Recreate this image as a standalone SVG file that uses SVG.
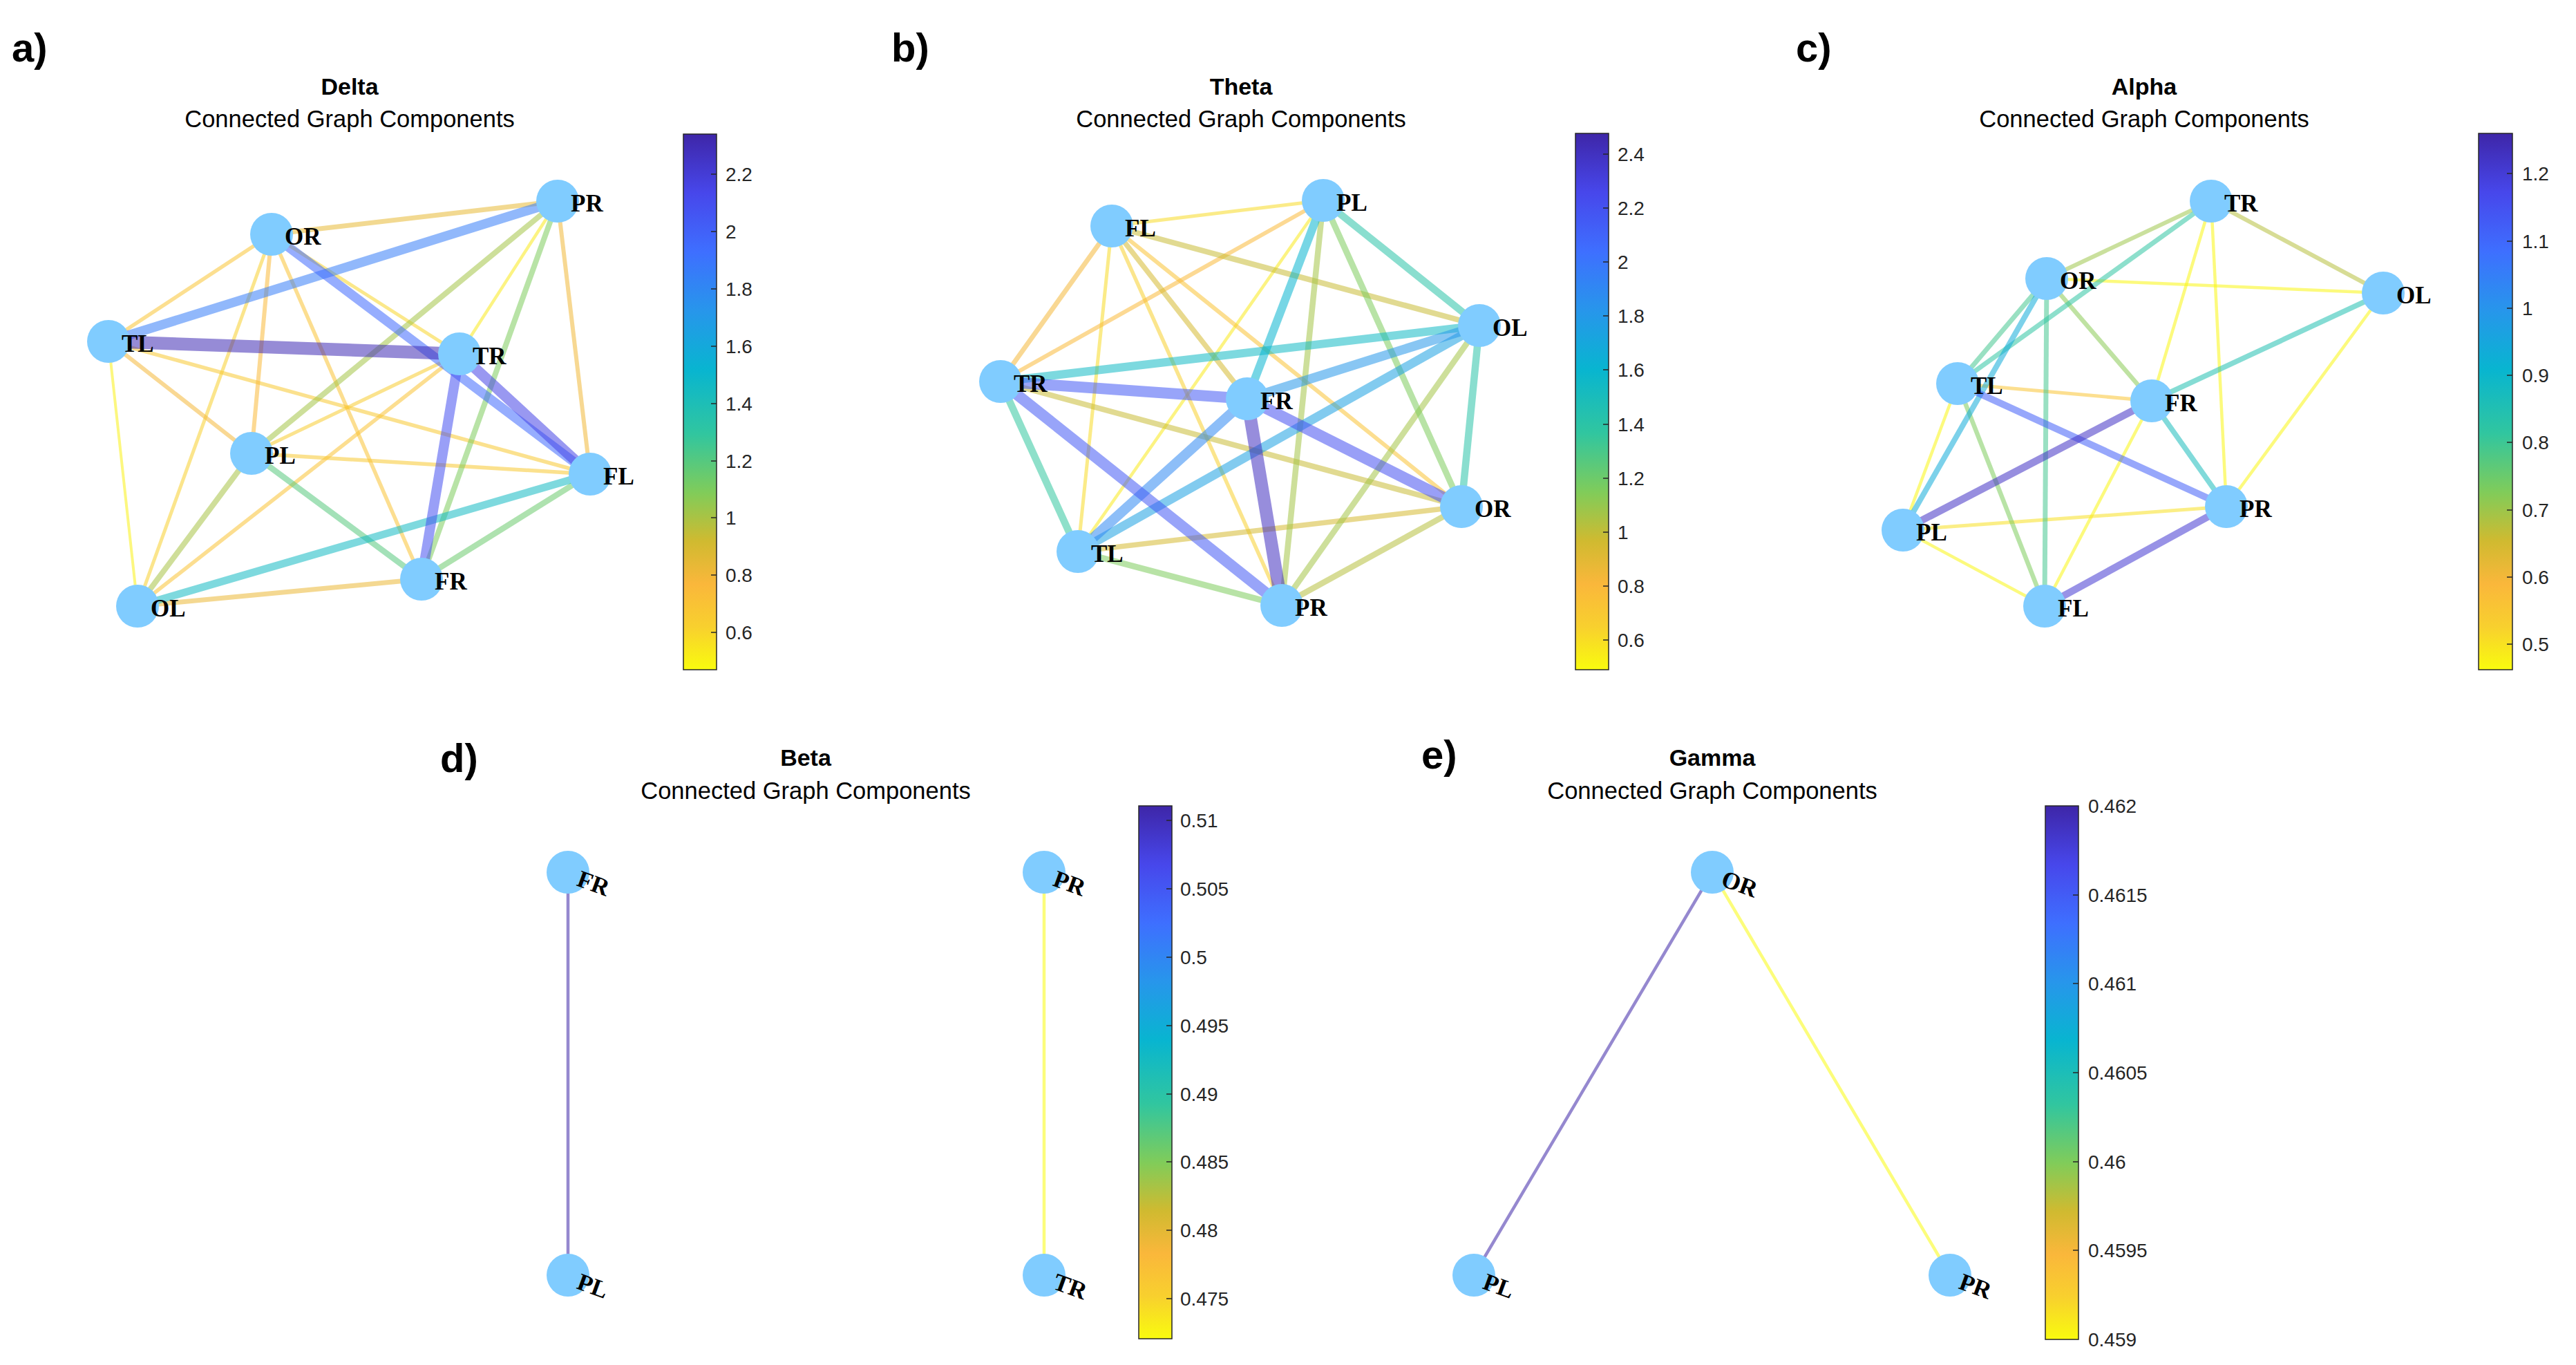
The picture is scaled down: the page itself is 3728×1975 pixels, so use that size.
<svg xmlns="http://www.w3.org/2000/svg" width="3728" height="1975" viewBox="0 0 3728 1975">
<defs>
<linearGradient id="parula" x1="0" y1="1" x2="0" y2="0">
<stop offset="0" stop-color="#F9FB0E"/>
<stop offset="0.08" stop-color="#F8D02E"/>
<stop offset="0.16" stop-color="#FAB73B"/>
<stop offset="0.24" stop-color="#D0BA30"/>
<stop offset="0.33" stop-color="#81CC59"/>
<stop offset="0.44" stop-color="#31C69F"/>
<stop offset="0.56" stop-color="#08B5D0"/>
<stop offset="0.67" stop-color="#2796EB"/>
<stop offset="0.78" stop-color="#3E6FFF"/>
<stop offset="0.89" stop-color="#4747EB"/>
<stop offset="1" stop-color="#3E26A8"/>
</linearGradient>
<style>
.e{fill:none;stroke-opacity:0.55;stroke-linecap:butt}
.n{fill:#80CCFF}
.lbl{font-family:"Liberation Serif","Times New Roman",serif;font-weight:bold;font-size:35px;fill:#000}
.lblr{font-family:"Liberation Serif","Times New Roman",serif;font-weight:bold;font-size:35px;fill:#000}
.pl{font-family:"Liberation Sans",Arial,sans-serif;font-weight:bold;font-size:58px;fill:#000}
.ti{font-family:"Liberation Sans",Arial,sans-serif;font-weight:bold;font-size:34px;fill:#000;text-anchor:middle}
.su{font-family:"Liberation Sans",Arial,sans-serif;font-size:34.5px;fill:#000;text-anchor:middle}
.cb{fill:url(#parula);stroke:#262626;stroke-width:1.5}
.tk{stroke:#262626;stroke-width:1.5}
.tl{font-family:"Liberation Sans",Arial,sans-serif;font-size:28px;fill:#262626}
</style>
</defs>
<rect x="0" y="0" width="3728" height="1975" fill="#FFFFFF"/>

<!-- Panel labels and titles -->
<text class="pl" x="17" y="89">a)</text>
<text class="pl" x="1290" y="89">b)</text>
<text class="pl" x="2599" y="89">c)</text>
<text class="pl" x="637" y="1117">d)</text>
<text class="pl" x="2057" y="1112">e)</text>

<text class="ti" x="506" y="137">Delta</text>
<text class="su" x="506" y="184">Connected Graph Components</text>
<text class="ti" x="1796" y="137">Theta</text>
<text class="su" x="1796" y="184">Connected Graph Components</text>
<text class="ti" x="3103" y="137">Alpha</text>
<text class="su" x="3103" y="184">Connected Graph Components</text>
<text class="ti" x="1166" y="1108">Beta</text>
<text class="su" x="1166" y="1156">Connected Graph Components</text>
<text class="ti" x="2478" y="1108">Gamma</text>
<text class="su" x="2478" y="1156">Connected Graph Components</text>

<!-- ===== Panel a ===== -->
<g id="a-connectors">
<line class="e" x1="157" y1="494" x2="199" y2="877" stroke="#F9F016" stroke-width="4"/>
<line class="e" x1="807" y1="291" x2="665" y2="512" stroke="#F9EA1C" stroke-width="4.5"/>
<line class="e" x1="393" y1="339" x2="665" y2="512" stroke="#F8D52A" stroke-width="5"/>
<line class="e" x1="393" y1="339" x2="199" y2="877" stroke="#F8D02E" stroke-width="5"/>
<line class="e" x1="364" y1="656" x2="665" y2="512" stroke="#F8CC30" stroke-width="5"/>
<line class="e" x1="364" y1="656" x2="854" y2="686" stroke="#F8C932" stroke-width="5.5"/>
<line class="e" x1="157" y1="494" x2="854" y2="686" stroke="#F8C932" stroke-width="5.5"/>
<line class="e" x1="393" y1="339" x2="157" y2="494" stroke="#F9C534" stroke-width="5.5"/>
<line class="e" x1="393" y1="339" x2="610" y2="838" stroke="#F9C235" stroke-width="5.5"/>
<line class="e" x1="665" y1="512" x2="199" y2="877" stroke="#F9C235" stroke-width="5.5"/>
<line class="e" x1="393" y1="339" x2="364" y2="656" stroke="#FABA3A" stroke-width="6"/>
<line class="e" x1="157" y1="494" x2="364" y2="656" stroke="#F4B83A" stroke-width="6"/>
<line class="e" x1="807" y1="291" x2="854" y2="686" stroke="#F0B838" stroke-width="6"/>
<line class="e" x1="610" y1="838" x2="199" y2="877" stroke="#EBB837" stroke-width="7"/>
<line class="e" x1="393" y1="339" x2="807" y2="291" stroke="#E8B937" stroke-width="7"/>
<line class="e" x1="364" y1="656" x2="199" y2="877" stroke="#A8C345" stroke-width="8"/>
<line class="e" x1="807" y1="291" x2="364" y2="656" stroke="#A4C447" stroke-width="8"/>
<line class="e" x1="807" y1="291" x2="610" y2="838" stroke="#7ECC5C" stroke-width="8"/>
<line class="e" x1="854" y1="686" x2="610" y2="838" stroke="#6BCA6D" stroke-width="8.5"/>
<line class="e" x1="364" y1="656" x2="610" y2="838" stroke="#58C97D" stroke-width="8.5"/>
<line class="e" x1="854" y1="686" x2="199" y2="877" stroke="#14BAC2" stroke-width="11"/>
<line class="e" x1="157" y1="494" x2="807" y2="291" stroke="#367DF8" stroke-width="13.5"/>
<line class="e" x1="393" y1="339" x2="854" y2="686" stroke="#3F6AFD" stroke-width="13.5"/>
<line class="e" x1="665" y1="512" x2="610" y2="838" stroke="#4551F0" stroke-width="14.5"/>
<line class="e" x1="665" y1="512" x2="854" y2="686" stroke="#4644E6" stroke-width="15.5"/>
<line class="e" x1="157" y1="494" x2="665" y2="512" stroke="#402CB5" stroke-width="18.5"/>
</g>
<g id="a-PR"><circle class="n" cx="807" cy="291" r="31"/><text class="lbl" x="826" y="306">PR</text></g>
<g id="a-OR"><circle class="n" cx="393" cy="339" r="31"/><text class="lbl" x="412" y="354">OR</text></g>
<g id="a-TL"><circle class="n" cx="157" cy="494" r="31"/><text class="lbl" x="176" y="509">TL</text></g>
<g id="a-TR"><circle class="n" cx="665" cy="512" r="31"/><text class="lbl" x="684" y="527">TR</text></g>
<g id="a-PL"><circle class="n" cx="364" cy="656" r="31"/><text class="lbl" x="383" y="671">PL</text></g>
<g id="a-FL"><circle class="n" cx="854" cy="686" r="31"/><text class="lbl" x="873" y="701">FL</text></g>
<g id="a-FR"><circle class="n" cx="610" cy="838" r="31"/><text class="lbl" x="629" y="853">FR</text></g>
<g id="a-OL"><circle class="n" cx="199" cy="877" r="31"/><text class="lbl" x="218" y="892">OL</text></g>
<g id="a-colorbar">
<rect class="cb" x="989" y="194" width="48" height="775"/>
<g class="tk">
<line x1="1029" y1="915" x2="1037" y2="915"/><line x1="1029" y1="832" x2="1037" y2="832"/>
<line x1="1029" y1="749" x2="1037" y2="749"/><line x1="1029" y1="667" x2="1037" y2="667"/>
<line x1="1029" y1="584" x2="1037" y2="584"/><line x1="1029" y1="501" x2="1037" y2="501"/>
<line x1="1029" y1="418" x2="1037" y2="418"/><line x1="1029" y1="335" x2="1037" y2="335"/>
<line x1="1029" y1="252" x2="1037" y2="252"/>
</g>
<text class="tl" x="1050" y="925">0.6</text><text class="tl" x="1050" y="842">0.8</text>
<text class="tl" x="1050" y="759">1</text><text class="tl" x="1050" y="677">1.2</text>
<text class="tl" x="1050" y="594">1.4</text><text class="tl" x="1050" y="511">1.6</text>
<text class="tl" x="1050" y="428">1.8</text><text class="tl" x="1050" y="345">2</text>
<text class="tl" x="1050" y="262">2.2</text>
</g>

<!-- ===== Panel b ===== -->
<g id="b-connectors">
<line class="e" x1="1915" y1="290" x2="1560" y2="798" stroke="#F9EA1C" stroke-width="4.5"/>
<line class="e" x1="1609" y1="327" x2="1915" y2="290" stroke="#F8DB26" stroke-width="5"/>
<line class="e" x1="1609" y1="327" x2="1560" y2="798" stroke="#F8DB26" stroke-width="5"/>
<line class="e" x1="1609" y1="327" x2="1855" y2="876" stroke="#F8D02E" stroke-width="5.5"/>
<line class="e" x1="1609" y1="327" x2="2115" y2="733" stroke="#F9C235" stroke-width="6"/>
<line class="e" x1="1915" y1="290" x2="1448" y2="552" stroke="#FABA3A" stroke-width="6"/>
<line class="e" x1="1609" y1="327" x2="1448" y2="552" stroke="#F4B83A" stroke-width="7"/>
<line class="e" x1="1609" y1="327" x2="1805" y2="577" stroke="#D6BA32" stroke-width="7.5"/>
<line class="e" x1="1560" y1="798" x2="2115" y2="733" stroke="#D6BA32" stroke-width="7.5"/>
<line class="e" x1="1448" y1="552" x2="2115" y2="733" stroke="#C8BC36" stroke-width="8"/>
<line class="e" x1="1609" y1="327" x2="2141" y2="471" stroke="#C8BC36" stroke-width="8"/>
<line class="e" x1="2115" y1="733" x2="1855" y2="876" stroke="#B6C03E" stroke-width="8.5"/>
<line class="e" x1="1915" y1="290" x2="1855" y2="876" stroke="#A4C447" stroke-width="8.5"/>
<line class="e" x1="2141" y1="471" x2="1855" y2="876" stroke="#A4C447" stroke-width="8.5"/>
<line class="e" x1="1915" y1="290" x2="2115" y2="733" stroke="#7ECC5C" stroke-width="9"/>
<line class="e" x1="1560" y1="798" x2="1855" y2="876" stroke="#7ECC5C" stroke-width="9"/>
<line class="e" x1="1448" y1="552" x2="1560" y2="798" stroke="#31C69F" stroke-width="10.5"/>
<line class="e" x1="2141" y1="471" x2="2115" y2="733" stroke="#2AC3A8" stroke-width="10.5"/>
<line class="e" x1="1915" y1="290" x2="2141" y2="471" stroke="#2AC3A8" stroke-width="10.5"/>
<line class="e" x1="2141" y1="471" x2="1448" y2="552" stroke="#12B9C4" stroke-width="12"/>
<line class="e" x1="1915" y1="290" x2="1805" y2="577" stroke="#08B5D0" stroke-width="12"/>
<line class="e" x1="2141" y1="471" x2="1560" y2="798" stroke="#1CA1E1" stroke-width="13"/>
<line class="e" x1="2141" y1="471" x2="1805" y2="577" stroke="#2698EA" stroke-width="13.5"/>
<line class="e" x1="1805" y1="577" x2="1560" y2="798" stroke="#2F88F2" stroke-width="14.5"/>
<line class="e" x1="1448" y1="552" x2="1855" y2="876" stroke="#4459F4" stroke-width="16"/>
<line class="e" x1="1448" y1="552" x2="1805" y2="577" stroke="#4459F4" stroke-width="16"/>
<line class="e" x1="1805" y1="577" x2="2115" y2="733" stroke="#4551F0" stroke-width="16.5"/>
<line class="e" x1="1805" y1="577" x2="1855" y2="876" stroke="#4130C0" stroke-width="18.5"/>
</g>
<g id="b-FL"><circle class="n" cx="1609" cy="327" r="31"/><text class="lbl" x="1628" y="342">FL</text></g>
<g id="b-PL"><circle class="n" cx="1915" cy="290" r="31"/><text class="lbl" x="1934" y="305">PL</text></g>
<g id="b-OL"><circle class="n" cx="2141" cy="471" r="31"/><text class="lbl" x="2160" y="486">OL</text></g>
<g id="b-TR"><circle class="n" cx="1448" cy="552" r="31"/><text class="lbl" x="1467" y="567">TR</text></g>
<g id="b-FR"><circle class="n" cx="1805" cy="577" r="31"/><text class="lbl" x="1824" y="592">FR</text></g>
<g id="b-OR"><circle class="n" cx="2115" cy="733" r="31"/><text class="lbl" x="2134" y="748">OR</text></g>
<g id="b-TL"><circle class="n" cx="1560" cy="798" r="31"/><text class="lbl" x="1579" y="813">TL</text></g>
<g id="b-PR"><circle class="n" cx="1855" cy="876" r="31"/><text class="lbl" x="1874" y="891">PR</text></g>
<g id="b-colorbar">
<rect class="cb" x="2280" y="193" width="48" height="776"/>
<g class="tk">
<line x1="2320" y1="926" x2="2328" y2="926"/><line x1="2320" y1="848" x2="2328" y2="848"/>
<line x1="2320" y1="770" x2="2328" y2="770"/><line x1="2320" y1="692" x2="2328" y2="692"/>
<line x1="2320" y1="614" x2="2328" y2="614"/><line x1="2320" y1="535" x2="2328" y2="535"/>
<line x1="2320" y1="457" x2="2328" y2="457"/><line x1="2320" y1="379" x2="2328" y2="379"/>
<line x1="2320" y1="301" x2="2328" y2="301"/><line x1="2320" y1="223" x2="2328" y2="223"/>
</g>
<text class="tl" x="2341" y="936">0.6</text><text class="tl" x="2341" y="858">0.8</text>
<text class="tl" x="2341" y="780">1</text><text class="tl" x="2341" y="702">1.2</text>
<text class="tl" x="2341" y="624">1.4</text><text class="tl" x="2341" y="545">1.6</text>
<text class="tl" x="2341" y="467">1.8</text><text class="tl" x="2341" y="389">2</text>
<text class="tl" x="2341" y="311">2.2</text><text class="tl" x="2341" y="233">2.4</text>
</g>

<!-- ===== Panel c ===== -->
<g id="c-connectors">
<line class="e" x1="3200" y1="291" x2="3114" y2="580" stroke="#F9F512" stroke-width="4.5"/>
<line class="e" x1="3200" y1="291" x2="3222" y2="733" stroke="#F9F512" stroke-width="4.5"/>
<line class="e" x1="2962" y1="403" x2="3449" y2="424" stroke="#F9F512" stroke-width="4.5"/>
<line class="e" x1="3449" y1="424" x2="3222" y2="733" stroke="#F9F512" stroke-width="4.5"/>
<line class="e" x1="2833" y1="555" x2="2754" y2="767" stroke="#F9F512" stroke-width="4.5"/>
<line class="e" x1="3114" y1="580" x2="2959" y2="877" stroke="#F9F512" stroke-width="4.5"/>
<line class="e" x1="2754" y1="767" x2="2959" y2="877" stroke="#F9F512" stroke-width="4.5"/>
<line class="e" x1="3222" y1="733" x2="2754" y2="767" stroke="#F8E022" stroke-width="5"/>
<line class="e" x1="2833" y1="555" x2="3114" y2="580" stroke="#F9C534" stroke-width="5"/>
<line class="e" x1="3200" y1="291" x2="3449" y2="424" stroke="#B6C03E" stroke-width="6"/>
<line class="e" x1="3200" y1="291" x2="2962" y2="403" stroke="#9EC64C" stroke-width="6"/>
<line class="e" x1="2962" y1="403" x2="3114" y2="580" stroke="#8ACA56" stroke-width="6.5"/>
<line class="e" x1="2833" y1="555" x2="2959" y2="877" stroke="#7ECC5C" stroke-width="6.5"/>
<line class="e" x1="2962" y1="403" x2="2959" y2="877" stroke="#46C790" stroke-width="7"/>
<line class="e" x1="2962" y1="403" x2="2833" y2="555" stroke="#46C790" stroke-width="7"/>
<line class="e" x1="3200" y1="291" x2="2833" y2="555" stroke="#2FC5A2" stroke-width="7"/>
<line class="e" x1="3449" y1="424" x2="3114" y2="580" stroke="#21BFB0" stroke-width="7.5"/>
<line class="e" x1="3114" y1="580" x2="3222" y2="733" stroke="#19BCBB" stroke-width="7.5"/>
<line class="e" x1="2962" y1="403" x2="2754" y2="767" stroke="#10ACD8" stroke-width="8"/>
<line class="e" x1="2833" y1="555" x2="3222" y2="733" stroke="#425FF7" stroke-width="10"/>
<line class="e" x1="3222" y1="733" x2="2959" y2="877" stroke="#4438D2" stroke-width="10.5"/>
<line class="e" x1="3114" y1="580" x2="2754" y2="767" stroke="#4232C4" stroke-width="10.5"/>
</g>
<g id="c-TR"><circle class="n" cx="3200" cy="291" r="31"/><text class="lbl" x="3219" y="306">TR</text></g>
<g id="c-OR"><circle class="n" cx="2962" cy="403" r="31"/><text class="lbl" x="2981" y="418">OR</text></g>
<g id="c-OL"><circle class="n" cx="3449" cy="424" r="31"/><text class="lbl" x="3468" y="439">OL</text></g>
<g id="c-TL"><circle class="n" cx="2833" cy="555" r="31"/><text class="lbl" x="2852" y="570">TL</text></g>
<g id="c-FR"><circle class="n" cx="3114" cy="580" r="31"/><text class="lbl" x="3133" y="595">FR</text></g>
<g id="c-PR"><circle class="n" cx="3222" cy="733" r="31"/><text class="lbl" x="3241" y="748">PR</text></g>
<g id="c-PL"><circle class="n" cx="2754" cy="767" r="31"/><text class="lbl" x="2773" y="782">PL</text></g>
<g id="c-FL"><circle class="n" cx="2959" cy="877" r="31"/><text class="lbl" x="2978" y="892">FL</text></g>
<g id="c-colorbar">
<rect class="cb" x="3587" y="193" width="49" height="776"/>
<g class="tk">
<line x1="3628" y1="932" x2="3636" y2="932"/><line x1="3628" y1="835" x2="3636" y2="835"/>
<line x1="3628" y1="738" x2="3636" y2="738"/><line x1="3628" y1="640" x2="3636" y2="640"/>
<line x1="3628" y1="543" x2="3636" y2="543"/><line x1="3628" y1="446" x2="3636" y2="446"/>
<line x1="3628" y1="349" x2="3636" y2="349"/><line x1="3628" y1="251" x2="3636" y2="251"/>
</g>
<text class="tl" x="3650" y="942">0.5</text><text class="tl" x="3650" y="845">0.6</text>
<text class="tl" x="3650" y="748">0.7</text><text class="tl" x="3650" y="650">0.8</text>
<text class="tl" x="3650" y="553">0.9</text><text class="tl" x="3650" y="456">1</text>
<text class="tl" x="3650" y="359">1.1</text><text class="tl" x="3650" y="261">1.2</text>
</g>

<!-- ===== Panel d ===== -->
<g id="d-connectors">
<line class="e" x1="822" y1="1262" x2="822" y2="1845" stroke="#3E26A8" stroke-width="4.5"/>
<line class="e" x1="1511" y1="1262" x2="1511" y2="1845" stroke="#F9FB0E" stroke-width="4.5"/>
</g>
<g id="d-FR"><circle class="n" cx="822" cy="1262" r="31"/><text class="lblr" x="833" y="1281" transform="rotate(20 833 1281)">FR</text></g>
<g id="d-PL"><circle class="n" cx="822" cy="1845" r="31"/><text class="lblr" x="833" y="1864" transform="rotate(20 833 1864)">PL</text></g>
<g id="d-PR"><circle class="n" cx="1511" cy="1262" r="31"/><text class="lblr" x="1522" y="1281" transform="rotate(20 1522 1281)">PR</text></g>
<g id="d-TR"><circle class="n" cx="1511" cy="1845" r="31"/><text class="lblr" x="1522" y="1864" transform="rotate(20 1522 1864)">TR</text></g>
<g id="d-colorbar">
<rect class="cb" x="1648" y="1166" width="48" height="771"/>
<g class="tk">
<line x1="1688" y1="1879" x2="1696" y2="1879"/><line x1="1688" y1="1780" x2="1696" y2="1780"/>
<line x1="1688" y1="1681" x2="1696" y2="1681"/><line x1="1688" y1="1583" x2="1696" y2="1583"/>
<line x1="1688" y1="1484" x2="1696" y2="1484"/><line x1="1688" y1="1385" x2="1696" y2="1385"/>
<line x1="1688" y1="1286" x2="1696" y2="1286"/><line x1="1688" y1="1187" x2="1696" y2="1187"/>
</g>
<text class="tl" x="1708" y="1889">0.475</text><text class="tl" x="1708" y="1790">0.48</text>
<text class="tl" x="1708" y="1691">0.485</text><text class="tl" x="1708" y="1593">0.49</text>
<text class="tl" x="1708" y="1494">0.495</text><text class="tl" x="1708" y="1395">0.5</text>
<text class="tl" x="1708" y="1296">0.505</text><text class="tl" x="1708" y="1197">0.51</text>
</g>

<!-- ===== Panel e ===== -->
<g id="e-connectors">
<line class="e" x1="2478" y1="1262" x2="2133" y2="1845" stroke="#3E26A8" stroke-width="4.5"/>
<line class="e" x1="2478" y1="1262" x2="2822" y2="1845" stroke="#F9FB0E" stroke-width="4.5"/>
</g>
<g id="e-OR"><circle class="n" cx="2478" cy="1262" r="31"/><text class="lblr" x="2489" y="1281" transform="rotate(20 2489 1281)">OR</text></g>
<g id="e-PL"><circle class="n" cx="2133" cy="1845" r="31"/><text class="lblr" x="2144" y="1864" transform="rotate(20 2144 1864)">PL</text></g>
<g id="e-PR"><circle class="n" cx="2822" cy="1845" r="31"/><text class="lblr" x="2833" y="1864" transform="rotate(20 2833 1864)">PR</text></g>
<g id="e-colorbar">
<rect class="cb" x="2960" y="1166" width="48" height="772"/>
<g class="tk">
<line x1="3000" y1="1809" x2="3008" y2="1809"/><line x1="3000" y1="1681" x2="3008" y2="1681"/>
<line x1="3000" y1="1552" x2="3008" y2="1552"/><line x1="3000" y1="1423" x2="3008" y2="1423"/>
<line x1="3000" y1="1295" x2="3008" y2="1295"/>
</g>
<text class="tl" x="3022" y="1948">0.459</text><text class="tl" x="3022" y="1819">0.4595</text>
<text class="tl" x="3022" y="1691">0.46</text><text class="tl" x="3022" y="1562">0.4605</text>
<text class="tl" x="3022" y="1433">0.461</text><text class="tl" x="3022" y="1305">0.4615</text>
<text class="tl" x="3022" y="1176">0.462</text>
</g>
</svg>
